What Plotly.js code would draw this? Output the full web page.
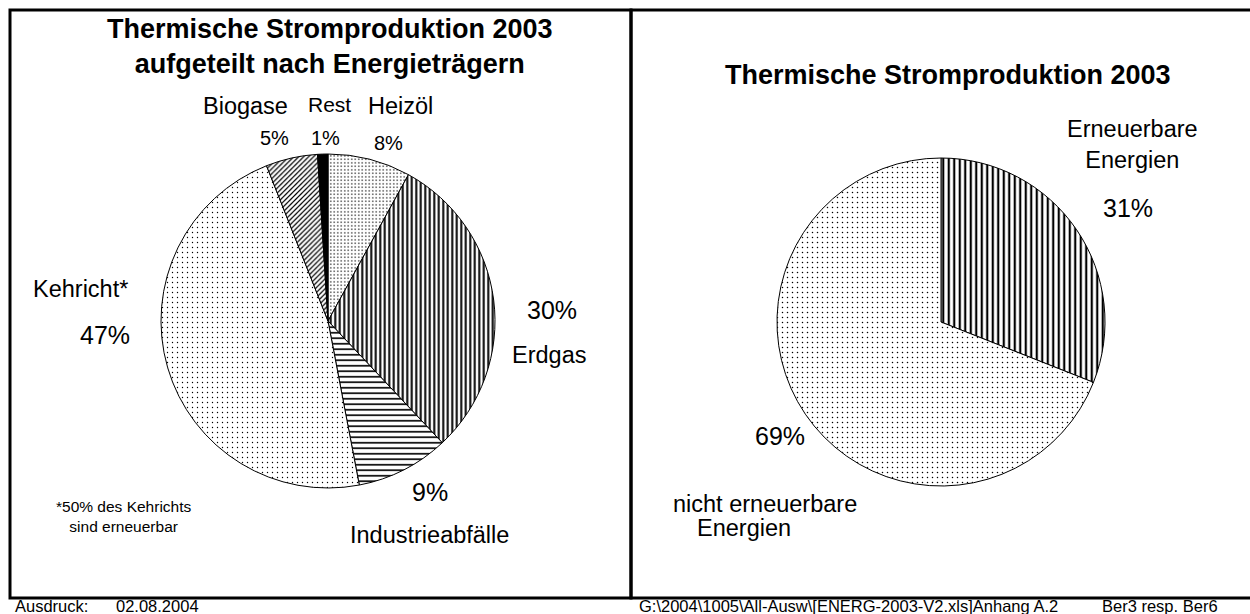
<!DOCTYPE html>
<html>
<head>
<meta charset="utf-8">
<script src="https://cdn.plot.ly/plotly-3.0.1.min.js"></script>
<style>html,body{margin:0;padding:0;background:#fff;}#chart{width:1250px;height:614px;}</style>
</head>
<body>
<div id="chart"></div>
<script>
// ---- data ----
const leftTitle = 'Thermische Stromproduktion 2003<br>aufgeteilt nach Energieträgern';
const rightTitle = 'Thermische Stromproduktion 2003';
const leftLabels = ['Heizöl', 'Erdgas', 'Industrieabfälle', 'Kehricht*', 'Biogase', 'Rest'];
const leftValues = [8, 30, 9, 47, 5, 1];
const rightLabels = ['Erneuerbare<br>Energien', 'nicht erneuerbare'];
const rightValues = [31, 69];
const footnote = '*50% des Kehrichts<br>sind erneuerbar';
const footerLeft = 'Ausdruck:';
const footerDate = '02.08.2004';
const footerPath = 'G:\\2004\\1005\\All-Ausw\\[ENERG-2003-V2.xls]Anhang A.2';
const footerSheet = 'Ber3 resp. Ber6';

// ---- helpers ----
const W = 1250, H = 614;
const px = x => x / W;
const py = y => 1 - y / H;
const FONT = 'Liberation Sans, Arial, sans-serif';

const leftPie = {
  type: 'pie', values: leftValues, labels: leftLabels, sort: false,
  direction: 'clockwise', rotation: 0, textinfo: 'none', hoverinfo: 'skip',
  showlegend: false,
  domain: {x: [px(161), px(495)], y: [py(488), py(154)]},
  marker: {
    colors: ['#ffffff', '#ffffff', '#ffffff', '#ffffff', '#ffffff', '#000000'],
    line: {color: '#000000', width: 1},
    pattern: {
      shape: ['.', '|', '-', '.', '/', ''],
      size: [3.5, 4.5, 5.5, 5, 3.5, 4],
      solidity: [0.14, 0.45, 0.3, 0.06, 0.35, 0.5],
      fgcolor: '#000000', fillmode: 'replace'
    }
  }
};

const rightPie = {
  type: 'pie', values: rightValues, labels: rightLabels, sort: false,
  direction: 'clockwise', rotation: 0, textinfo: 'none', hoverinfo: 'skip',
  showlegend: false,
  domain: {x: [px(777), px(1105)], y: [py(486), py(158)]},
  marker: {
    colors: ['#ffffff', '#ffffff'],
    line: {color: '#000000', width: 1},
    pattern: {
      shape: ['|', '.'],
      size: [5.5, 5],
      solidity: [0.4, 0.07],
      fgcolor: '#000000', fillmode: 'replace'
    }
  }
};

function ann(text, x, y, size, opts) {
  return Object.assign({
    text: text, xref: 'paper', yref: 'paper', x: px(x), y: py(y),
    xanchor: 'center', yanchor: 'middle', showarrow: false,
    font: {family: FONT, size: size, color: '#000000'}
  }, opts || {});
}

const pct = v => v + '%';
const L = 23.5, P = 25, S = 20, F = 16.5;

const annotations = [
  ann('<b>' + leftTitle + '</b>', 330, 46, 27, {}),
  ann('<b>' + rightTitle + '</b>', 948, 75, 27, {}),
  // left pie labels
  ann(leftLabels[4], 245, 106, L),
  ann(pct(leftValues[4]), 274, 138, S),
  ann(leftLabels[5], 329, 105, 21),
  ann(pct(leftValues[5]), 326, 138, S),
  ann(leftLabels[0], 400, 106, L),
  ann(pct(leftValues[0]), 388, 143, S),
  ann(pct(leftValues[1]), 552, 310, P),
  ann(leftLabels[1], 549, 355, L),
  ann(pct(leftValues[2]), 430, 492, P),
  ann(leftLabels[2], 429, 535, L),
  ann(leftLabels[3], 80, 289, L),
  ann(pct(leftValues[3]), 105, 335, P),
  ann(footnote, 124, 516, 15.5),
  // right pie labels
  ann(rightLabels[0], 1132, 144, L),
  ann(pct(rightValues[0]), 1128, 208, P),
  ann(pct(rightValues[1]), 780, 436, P),
  ann(rightLabels[1], 765, 504, L),
  ann('Energien', 744, 528, L),
  // footer
  ann(footerLeft, 13, 606, F, {xanchor: 'left'}),
  ann(footerDate, 114, 606, F, {xanchor: 'left'}),
  ann(footerPath, 637, 606, F, {xanchor: 'left'}),
  ann(footerSheet, 1100, 606, F, {xanchor: 'left'})
];

const shapes = [
  {type: 'rect', xref: 'paper', yref: 'paper', x0: px(10), x1: px(631), y0: py(598), y1: py(10),
   line: {color: '#000000', width: 3}},
  {type: 'rect', xref: 'paper', yref: 'paper', x0: px(631), x1: px(1262), y0: py(598), y1: py(10),
   line: {color: '#000000', width: 3}}
];

const layout = {
  width: W, height: H, margin: {l: 0, r: 0, t: 0, b: 0},
  paper_bgcolor: '#ffffff', plot_bgcolor: '#ffffff',
  showlegend: false, annotations: annotations, shapes: shapes,
  font: {family: FONT, color: '#000000'}
};

Plotly.newPlot('chart', [leftPie, rightPie], layout, {staticPlot: true, displayModeBar: false});
</script>
</body>
</html>
